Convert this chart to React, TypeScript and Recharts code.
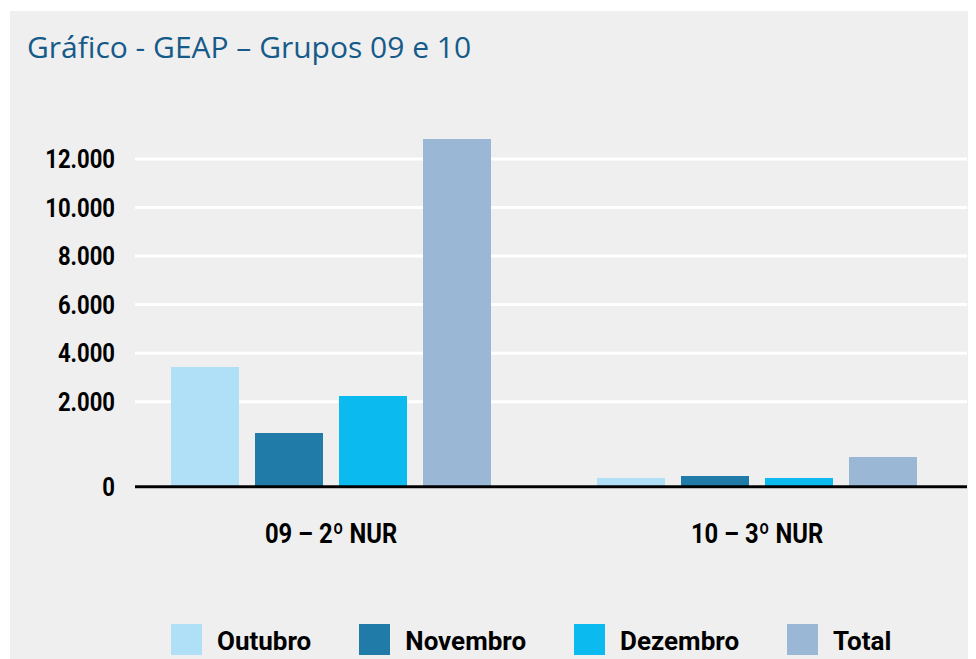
import { BarChart, Bar, XAxis, YAxis, CartesianGrid } from "recharts";

const groups = ["09 – 2º NUR", "10 – 3º NUR"];
const outubro = [3430, 205];
const novembro = [1264, 252];
const dezembro = [2235, 205];
const total = [12824, 699];
const yTicks = [0, 2000, 4000, 6000, 8000, 10000, 12000];
const seriesNames = ["Outubro", "Novembro", "Dezembro", "Total"];
const seriesColors = ["#b0dff8", "#207ba8", "#0bbbef", "#9ab8d5"];

const data = groups.map((g, i) => ({
  group: g,
  Outubro: outubro[i],
  Novembro: novembro[i],
  Dezembro: dezembro[i],
  Total: total[i],
}));

const LABEL_FONT = "Roboto, sans-serif";
const SQUEEZE = 0.85; // labels in the original are a condensed bold face

// the original axis gives the 0..2000 step more room than the others
function brokenScale(breakValue: number, breakFrac: number) {
  let dom = [0, 1];
  let rng = [0, 1];
  const s: any = (v: number) => {
    const [d0, d1] = dom;
    let t;
    if (v <= breakValue) t = ((v - d0) / (breakValue - d0)) * breakFrac;
    else t = breakFrac + ((v - breakValue) / (d1 - breakValue)) * (1 - breakFrac);
    return rng[0] + t * (rng[1] - rng[0]);
  };
  s.domain = (d?: number[]) => {
    if (!d) return dom;
    dom = [...d];
    return s;
  };
  s.range = (r?: number[]) => {
    if (!r) return rng;
    rng = [...r];
    return s;
  };
  s.copy = () => brokenScale(breakValue, breakFrac).domain(dom).range(rng);
  s.ticks = () => yTicks;
  s.invert = (p: number) => {
    const t = (p - rng[0]) / (rng[1] - rng[0]);
    if (t <= breakFrac) return (t / breakFrac) * breakValue;
    return breakValue + ((t - breakFrac) / (1 - breakFrac)) * (dom[1] - breakValue);
  };
  return s;
}

const yScale = brokenScale(2000, 0.2415);

const XTick = (props: any) => {
  const { x, y, payload } = props;
  return (
    <g transform={`translate(${x},${y})`}>
      <text
        x={0}
        y={56}
        transform={`scale(${SQUEEZE},1)`}
        textAnchor="middle"
        fill="#000"
        fontSize={28}
        fontWeight={700}
        fontFamily={LABEL_FONT}
      >
        {payload.value}
      </text>
    </g>
  );
};

const YTick = (props: any) => {
  const { x, y, payload } = props;
  return (
    <g transform={`translate(${x},${y})`}>
      <text
        x={0}
        y={0}
        dy="0.355em"
        transform={`scale(${SQUEEZE},1)`}
        textAnchor="end"
        fill="#000"
        fontSize={26}
        fontWeight={700}
        fontFamily={LABEL_FONT}
      >
        {Number(payload.value).toLocaleString("pt-BR")}
      </text>
    </g>
  );
};

export default function App() {
  return (
    <div style={{ position: "relative", width: 968, height: 651 }}>
      <div style={{ position: "absolute", left: 2, top: 3, width: 966, height: 648, background: "#efefef" }}>
        <div
          style={{
            position: "absolute",
            left: 17,
            top: 20.7,
            fontFamily: '"Open Sans", sans-serif',
            fontSize: 30,
            lineHeight: 1,
            color: "#165a8a",
            whiteSpace: "nowrap",
          }}
        >
          Gráfico - GEAP – Grupos 09 e 10
        </div>
        <BarChart
          width={966}
          height={648}
          data={data}
          margin={{ top: 123.7, right: 9, bottom: 132.3, left: 0 }}
          barGap={16}
          barSize={68}
        >
          <CartesianGrid vertical={false} stroke="#ffffff" strokeWidth={3} syncWithTicks />
          <XAxis
            dataKey="group"
            height={40}
            padding={{ left: -17, right: -3 }}
            tickLine={false}
            tickSize={0}
            tickMargin={0}
            axisLine={{ stroke: "#000", strokeWidth: 3 }}
            tick={<XTick />}
          />
          <YAxis
            type="number"
            domain={[0, 13000]}
            ticks={yTicks}
            scale={yScale}
            interval={0}
            width={125}
            axisLine={false}
            tickLine={false}
            tickSize={0}
            tickMargin={20}
            tick={<YTick />}
          />
          {seriesNames.map((name, i) => (
            <Bar key={name} dataKey={name} fill={seriesColors[i]} isAnimationActive={false} />
          ))}
        </BarChart>
        <div
          style={{
            position: "absolute",
            left: 161,
            top: 611,
            display: "flex",
            alignItems: "center",
            fontFamily: LABEL_FONT,
            fontWeight: 700,
            fontSize: 26,
            color: "#000",
          }}
        >
          {seriesNames.map((name, i) => (
            <div key={name} style={{ display: "flex", alignItems: "center", marginRight: 48 }}>
              <span style={{ width: 31, height: 31, background: seriesColors[i], marginRight: 15, display: "inline-block" }} />
              <span style={{ paddingTop: 4 }}>{name}</span>
            </div>
          ))}
        </div>
      </div>
    </div>
  );
}
